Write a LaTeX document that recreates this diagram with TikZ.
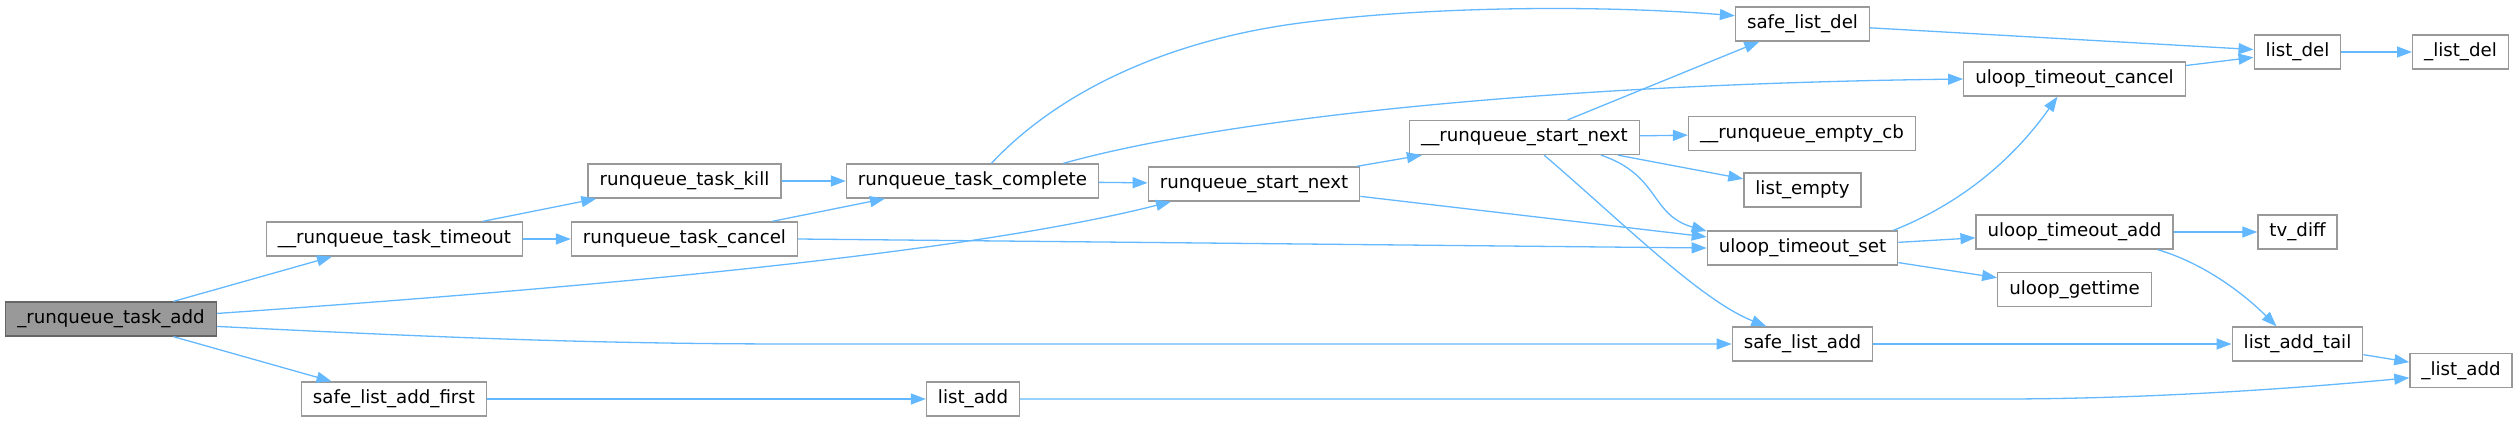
\documentclass[tikz,border=0pt]{standalone}
\usepackage{fontspec}
\setmainfont{DejaVu Sans}
\usepackage{xcolor}
\usetikzlibrary{arrows.meta}
\definecolor{edgeblue}{HTML}{63B8FF}
\definecolor{boxgrey}{HTML}{999999}
\definecolor{rootgrey}{HTML}{666666}

\begin{document}
\begin{tikzpicture}[x=1pt, y=-1pt,
    fn/.style={draw=boxgrey, fill=white, line width=1.3pt, minimum height=34pt, inner xsep=11.5pt, inner ysep=0pt, font=\fontsize{18.2}{21}\selectfont},
    rootfn/.style={fn, draw=rootgrey, fill=boxgrey},
    call/.style={draw=edgeblue, line width=1.3pt, -{Triangle[length=15pt, width=11pt]}}]
        \useasboundingbox (0,0) rectangle (2517,421);

        % Caller
        \node[rootfn] (taskadd) at (111,319) {\_runqueue\_task\_add};

        % First level
        \node[fn] (tasktimeout) at (394.5,239) {\_\_runqueue\_task\_timeout};
        \node[fn] (addfirst) at (394,399) {safe\_list\_add\_first};
        \node[fn] (taskkill) at (684.5,181) {runqueue\_task\_kill};
        \node[fn] (taskcancel) at (684.5,239) {runqueue\_task\_cancel};
        \node[fn] (taskcomplete) at (972.5,181) {runqueue\_task\_complete};
        \node[fn] (startnext) at (1254,184) {runqueue\_start\_next};
        \node[fn] (listadd) at (973,399) {list\_add};
        \node[fn] (ustartnext) at (1524.5,137.5) {\_\_runqueue\_start\_next};

        % Middle column
        \node[fn] (sldel) at (1802.5,24) {safe\_list\_del};
        \node[fn] (emptycb) at (1802,133.5) {\_\_runqueue\_empty\_cb};
        \node[fn] (lempty) at (1802.5,190) {list\_empty};
        \node[fn] (tset) at (1802.5,248) {uloop\_timeout\_set};
        \node[fn] (sladd) at (1802.5,344) {safe\_list\_add};

        % uloop helpers
        \node[fn] (tcancel) at (2074.5,79) {uloop\_timeout\_cancel};
        \node[fn] (tadd) at (2074.5,232) {uloop\_timeout\_add};
        \node[fn] (gettime) at (2074.5,289.5) {uloop\_gettime};

        % List primitives
        \node[fn] (ldel) at (2297.5,52) {list\_del};
        \node[fn] (tvdiff) at (2297.5,232) {tv\_diff};
        \node[fn] (addtail) at (2297.5,344) {list\_add\_tail};
        \node[fn] (uldel) at (2460.5,52) {\_list\_del};
        \node[fn] (uladd) at (2461,370.5) {\_list\_add};

        % Calls from _runqueue_task_add
        \draw[call] (taskadd) -- (tasktimeout);
        \draw[call] (taskadd) -- (addfirst);
        \draw[call] (taskadd.3) .. controls (700,280) and (1000,245) .. (startnext.192);
        \draw[call] (taskadd.-4) .. controls (450,338) and (600,344) .. (800,344) -- (sladd.west);

        % Timeout, kill and cancel
        \draw[call] (tasktimeout) -- (taskkill);
        \draw[call] (tasktimeout) -- (taskcancel);
        \draw[call] (taskkill) -- (taskcomplete);
        \draw[call] (taskcancel) -- (taskcomplete);
        \draw[call] (taskcancel.east) -- (tset.west);

        % Complete
        \draw[call] (taskcomplete.43) .. controls (1060,90) and (1170,40) .. (1300,23) .. controls (1430,6) and (1600,5) .. (sldel.173);
        \draw[call] (taskcomplete.11) .. controls (1200,125) and (1500,85) .. (tcancel.west);
        \draw[call] (taskcomplete) -- (startnext);

        % Start next
        \draw[call] (startnext) -- (ustartnext);
        \draw[call] (startnext) -- (tset);
        \draw[call] (ustartnext) -- (sldel);
        \draw[call] (ustartnext) -- (emptycb);
        \draw[call] (ustartnext) -- (lempty);
        \draw[call] (ustartnext.-13) .. controls (1660,175) and (1650,215) .. (tset.170);
        \draw[call] (ustartnext.-42) .. controls (1620,220) and (1700,300) .. (sladd.154);

        % uloop and lists
        \draw[call] (sldel) -- (ldel);
        \draw[call] (tcancel) -- (ldel);
        \draw[call] (tset.11) .. controls (1970,200) and (2020,150) .. (tcancel.226);
        \draw[call] (tset) -- (tadd);
        \draw[call] (tset) -- (gettime);
        \draw[call] (tadd) -- (tvdiff);
        \draw[call] (tadd.-12) .. controls (2200,262) and (2240,290) .. (addtail.140);
        \draw[call] (sladd) -- (addtail);
        \draw[call] (ldel) -- (uldel);
        \draw[call] (addtail) -- (uladd);
        \draw[call] (addfirst) -- (listadd);
        \draw[call] (listadd.east) -- (2000,399) .. controls (2150,399) and (2300,388) .. (uladd.188);
    \end{tikzpicture}
\end{document}
